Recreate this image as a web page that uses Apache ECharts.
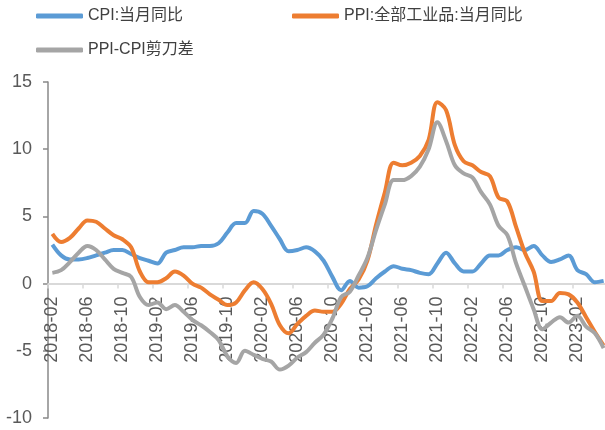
<!DOCTYPE html>
<html>
<head>
<meta charset="utf-8">
<script src="https://cdn.jsdelivr.net/npm/echarts@6/dist/echarts.min.js"></script>
<style>
  html, body { margin: 0; padding: 0; background: #fff; }
  #chart { width: 605px; height: 430px; }
</style>
</head>
<body>
<div id="chart"></div>
<script>
// 2018-02 .. 2023-05, monthly
var months = [
  "2018-02","2018-03","2018-04","2018-05","2018-06","2018-07","2018-08","2018-09","2018-10","2018-11","2018-12",
  "2019-01","2019-02","2019-03","2019-04","2019-05","2019-06","2019-07","2019-08","2019-09","2019-10","2019-11","2019-12",
  "2020-01","2020-02","2020-03","2020-04","2020-05","2020-06","2020-07","2020-08","2020-09","2020-10","2020-11","2020-12",
  "2021-01","2021-02","2021-03","2021-04","2021-05","2021-06","2021-07","2021-08","2021-09","2021-10","2021-11","2021-12",
  "2022-01","2022-02","2022-03","2022-04","2022-05","2022-06","2022-07","2022-08","2022-09","2022-10","2022-11","2022-12",
  "2023-01","2023-02","2023-03","2023-04","2023-05"
];

var cpi = [
  2.9, 2.1, 1.8, 1.8, 1.9, 2.1, 2.3, 2.5, 2.5, 2.2, 1.9,
  1.7, 1.5, 2.3, 2.5, 2.7, 2.7, 2.8, 2.8, 3.0, 3.8, 4.5, 4.5,
  5.4, 5.2, 4.3, 3.3, 2.4, 2.5, 2.7, 2.4, 1.7, 0.5, -0.5, 0.2,
  -0.3, -0.2, 0.4, 0.9, 1.3, 1.1, 1.0, 0.8, 0.7, 1.5, 2.3, 1.5,
  0.9, 0.9, 1.5, 2.1, 2.1, 2.5, 2.7, 2.5, 2.8, 2.1, 1.6, 1.8,
  2.1, 1.0, 0.7, 0.1, 0.2
];

var ppi = [
  3.7, 3.1, 3.4, 4.1, 4.7, 4.6, 4.1, 3.6, 3.3, 2.7, 0.9,
  0.1, 0.1, 0.4, 0.9, 0.6, 0.0, -0.3, -0.8, -1.2, -1.6, -1.4, -0.5,
  0.1, -0.4, -1.5, -3.1, -3.7, -3.0, -2.4, -2.0, -2.1, -2.1, -1.5, -0.4,
  0.3, 1.7, 4.4, 6.8, 9.0, 8.8, 9.0, 9.5, 10.7, 13.5, 12.9, 10.3,
  9.1, 8.8, 8.3, 8.0, 6.4, 6.1, 4.2, 2.3, 0.9, -1.3, -1.3, -0.7,
  -0.8, -1.4, -2.5, -3.6, -4.6
];

var gap = [
  0.8, 1.0, 1.6, 2.3, 2.8, 2.5, 1.8, 1.1, 0.8, 0.5, -1.0,
  -1.6, -1.4, -1.9, -1.6, -2.1, -2.7, -3.1, -3.6, -4.2, -5.4, -5.9, -5.0,
  -5.3, -5.6, -5.8, -6.4, -6.1, -5.5, -5.1, -4.4, -3.8, -2.6, -1.0, -0.6,
  0.6, 1.9, 4.0, 5.9, 7.7, 7.7, 8.0, 8.7, 10.0, 12.0, 10.6, 8.8,
  8.2, 7.9, 6.8, 5.9, 4.3, 3.6, 1.5, -0.2, -1.9, -3.4, -2.9, -2.5,
  -2.9, -2.4, -3.2, -3.7, -4.8
];

var names = ["CPI:当月同比", "PPI:全部工业品:当月同比", "PPI-CPI剪刀差"];
var colors = ["#5B9BD5", "#ED7D31", "#A5A5A5"];

var yMin = -10, yMax = 15;
var gridTop = 82, gridBottom = 12, chartH = 430;
// shift the category axis from the grid bottom up to the y=0 line
var zeroOffset = -(chartH - gridTop - gridBottom) * (0 - yMin) / (yMax - yMin);

var chart = echarts.init(document.getElementById("chart"));

var legendBase = {
  icon: "roundRect",
  itemWidth: 47,
  itemHeight: 5,
  itemGap: 5,
  padding: 0,
  textStyle: {
    fontSize: 16,
    color: "#404040",
    fontFamily: "Liberation Sans, Noto Sans CJK SC, sans-serif"
  }
};

var option = {
  animation: false,
  color: colors,
  textStyle: { fontFamily: "Liberation Sans, Arial, sans-serif" },
  legend: [
    Object.assign({}, legendBase, { data: [names[0]], left: 36, top: 8 }),
    Object.assign({}, legendBase, { data: [names[1]], left: 292, top: 8 }),
    Object.assign({}, legendBase, { data: [names[2]], left: 36, top: 42 })
  ],
  grid: {
    left: 48,
    right: -3,
    top: gridTop,
    bottom: gridBottom,
    containLabel: false,
    outerBoundsMode: "none"
  },
  xAxis: {
    type: "category",
    data: months,
    boundaryGap: true,
    offset: zeroOffset,
    axisLine: { onZero: false, lineStyle: { color: "#D9D9D9", width: 2 } },
    axisTick: { show: true, interval: 3, length: 5, lineStyle: { color: "#D9D9D9", width: 1.5 } },
    axisLabel: {
      interval: 3,
      rotate: 90,
      margin: 13,
      fontSize: 18,
      color: "#595959"
    },
    splitLine: { show: false }
  },
  yAxis: {
    type: "value",
    min: yMin,
    max: yMax,
    interval: 5,
    axisLine: { show: true, lineStyle: { color: "#898989", width: 1.5 } },
    axisTick: { show: true, length: 5, lineStyle: { color: "#898989", width: 1.5 } },
    axisLabel: { fontSize: 18, color: "#595959", margin: 16 },
    splitLine: { show: false }
  },
  series: [
    { name: names[0], type: "line", data: cpi, smooth: 0.35, symbol: "none", lineStyle: { width: 4, color: colors[0] } },
    { name: names[1], type: "line", data: ppi, smooth: 0.35, symbol: "none", lineStyle: { width: 4, color: colors[1] } },
    { name: names[2], type: "line", data: gap, smooth: 0.35, symbol: "none", lineStyle: { width: 4, color: colors[2] } }
  ]
};

chart.setOption(option);
</script>
</body>
</html>
